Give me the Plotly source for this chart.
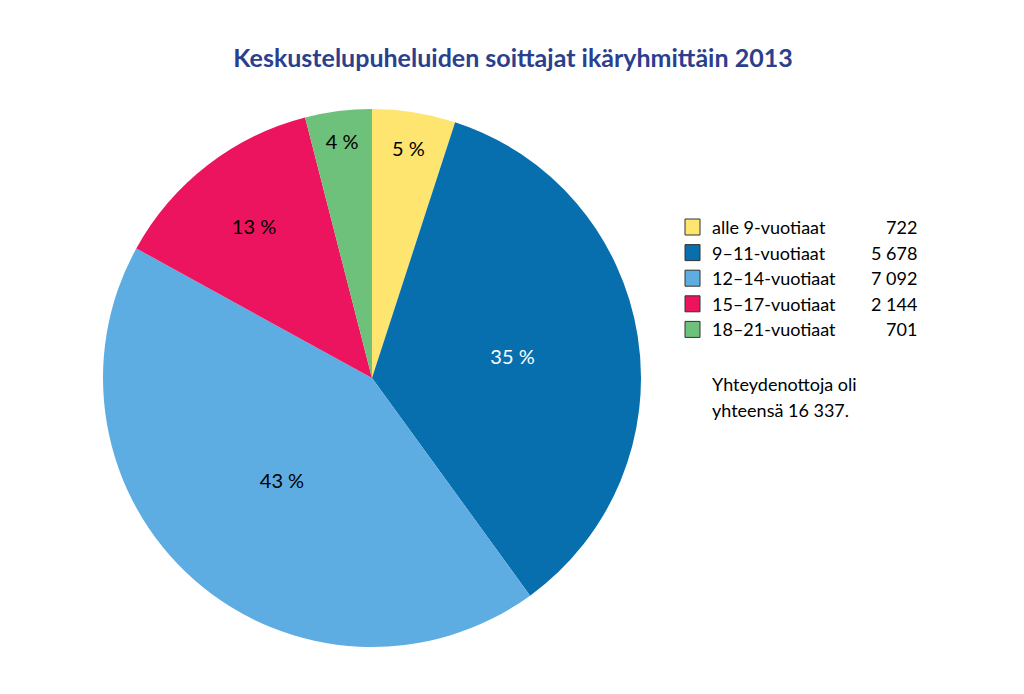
import plotly.graph_objects as go

categories = ["alle 9-vuotiaat", "9–11-vuotiaat", "12–14-vuotiaat", "15–17-vuotiaat", "18–21-vuotiaat"]
# slice shares (%) as drawn in the pie
shares = [5, 35, 43, 13, 4]
# counts shown in the legend
counts = [722, 5678, 7092, 2144, 701]
count_labels = ["722", "5 678", "7 092", "2 144", "701"]
colors = ["#FDE56F", "#086FAE", "#5DADE2", "#EC145E", "#6EC17A"]
text_colors = ["#000000", "#FFFFFF", "#000000", "#000000", "#000000"]
total_text = ["Yhteydenottoja oli", "yhteensä 16 337."]
title = "Keskustelupuheluiden soittajat ikäryhmittäin 2013"

FONT = "Lato"
W, H = 1024, 694
cx, cy, r = 372, 378, 269

pct = [f"{s} %" for s in shares]

fig = go.Figure(go.Pie(
    labels=categories,
    values=shares,
    text=pct,
    textinfo="text",
    textposition="inside",
    insidetextorientation="horizontal",
    sort=False,
    direction="clockwise",
    rotation=0,
    marker=dict(colors=colors, line=dict(width=0)),
    textfont=dict(family=FONT, size=20, color=text_colors),
    showlegend=False,
    customdata=counts,
    hovertemplate="%{label}: %{customdata}<extra></extra>",
    domain=dict(x=[(cx - r) / W, (cx + r) / W], y=[(H - cy - r) / H, (H - cy + r) / H]),
))

shapes = []
annotations = []
row_y0 = 227
row_dy = 25.6
for i, (c, lab, vl) in enumerate(zip(colors, categories, count_labels)):
    y = row_y0 + i * row_dy
    shapes.append(dict(type="rect", xref="paper", yref="paper",
                       x0=685 / W, x1=700 / W, y0=1 - (y + 8) / H, y1=1 - (y - 8) / H,
                       fillcolor=c, line=dict(color="#333333", width=1)))
    annotations.append(dict(text=lab, x=710 / W, y=1 - y / H, xref="paper", yref="paper",
                            xanchor="left", yanchor="middle", showarrow=False,
                            font=dict(family=FONT, size=18, color="#000000")))
    annotations.append(dict(text=vl, x=919 / W, y=1 - y / H, xref="paper", yref="paper",
                            xanchor="right", yanchor="middle", showarrow=False,
                            font=dict(family=FONT, size=18, color="#000000")))

for j, t in enumerate(total_text):
    y = 384 + j * 26
    annotations.append(dict(text=t, x=710 / W, y=1 - y / H, xref="paper", yref="paper",
                            xanchor="left", yanchor="middle", showarrow=False,
                            font=dict(family=FONT, size=18, color="#000000")))

fig.update_layout(
    width=W, height=H,
    margin=dict(l=0, r=0, t=0, b=0),
    paper_bgcolor="white",
    plot_bgcolor="white",
    title=dict(text=f"<b>{title}</b>", x=513 / W, xanchor="center",
               y=1 - 58 / H, yanchor="middle", yref="container",
               font=dict(family=FONT, size=25, color="#2B3F8E")),
    shapes=shapes,
    annotations=annotations,
)

fig.write_html("out.html")
